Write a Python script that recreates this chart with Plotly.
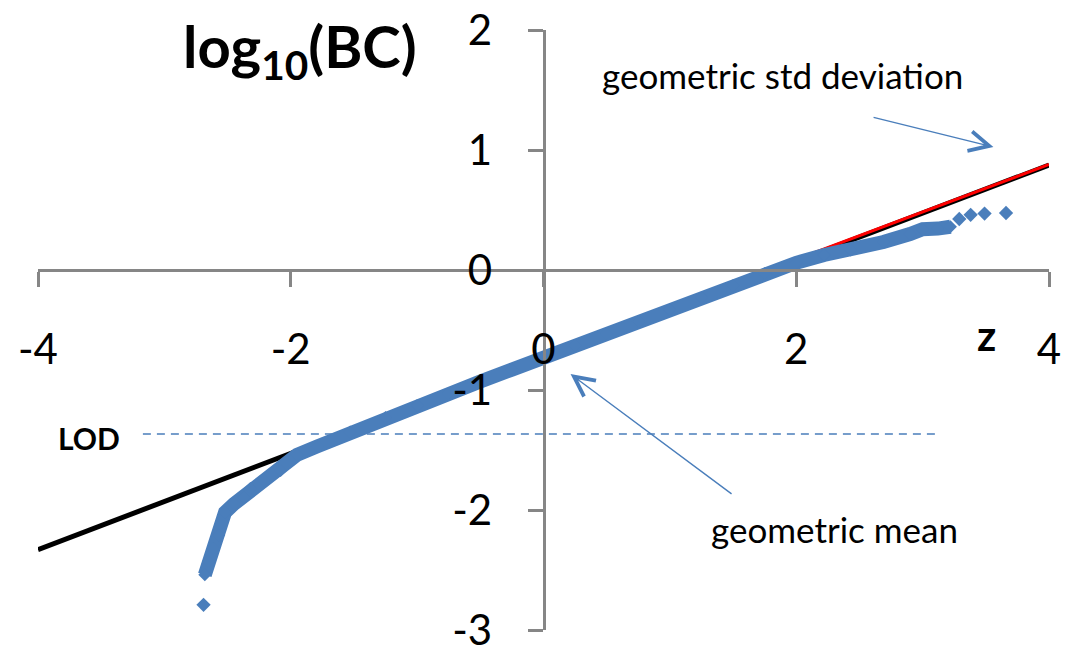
import plotly.graph_objects as go

# ranked data (z score vs log10 BC)
z_band = [-2.68, -2.65, -2.61, -2.57, -2.54, -2.52, -2.45, -2.37, -2.32, -2.21,
          -2.08, -1.95, -1.79, -1.63, -1.53, -1.25, -1.0, -0.75, -0.5, -0.25,
          0.0, 0.25, 0.5, 0.75, 1.0, 1.25, 1.5, 1.75, 2.0, 2.22,
          2.43, 2.69, 2.90, 3.0, 3.12, 3.22]
logbc_band = [-2.54, -2.43, -2.32, -2.21, -2.10, -2.02, -1.95, -1.89, -1.82, -1.75,
              -1.67, -1.54, -1.47, -1.40, -1.35, -1.23, -1.13, -1.03, -0.93, -0.83,
              -0.73, -0.63, -0.53, -0.43, -0.33, -0.23, -0.13, -0.03, 0.06, 0.125,
              0.167, 0.233, 0.30, 0.34, 0.345, 0.36]
z_out = [-2.69, 3.29, 3.38, 3.49, 3.66]
logbc_out = [-2.79, 0.425, 0.46, 0.47, 0.475]

# fitted lognormal line and its upper part
z_fit = [-4.0, 4.0]
logbc_fit = [-2.33, 0.875]
z_red = [1.0, 4.0]
logbc_red = [-0.308, 0.88]

# limit of detection
z_lod = [-3.17, 3.14]
logbc_lod = [-1.367, -1.367]

xticks = [-4, -2, 0, 2, 4]
xticktext = ['-4', '-2', '0', '2', '4']
yticks = [-3, -2, -1, 0, 1, 2]
yticktext = ['-3', '-2', '-1', '0', '1', '2']

blue = '#4A7EBB'
grey = '#868686'
font = 'Lato'

fig = go.Figure()
fig.add_trace(go.Scatter(x=z_fit, y=logbc_fit, mode='lines',
                         line=dict(color='black', width=5)))
fig.add_trace(go.Scatter(x=z_red, y=logbc_red, mode='lines',
                         line=dict(color='#FF0000', width=3)))
fig.add_trace(go.Scatter(x=z_lod, y=logbc_lod, mode='lines',
                         line=dict(color=blue, width=1.5, dash='8px,6px')))
fig.add_trace(go.Scatter(x=z_band, y=logbc_band, mode='lines+markers',
                         line=dict(color=blue, width=14),
                         marker=dict(symbol='diamond', size=10, color=blue)))
fig.add_trace(go.Scatter(x=z_out, y=logbc_out, mode='markers',
                         marker=dict(symbol='diamond', size=11, color=blue)))

# arrows
fig.add_annotation(x=3.56, y=1.025, ax=2.60, ay=1.275, axref='x', ayref='y',
                   text='', showarrow=True, arrowhead=5, arrowsize=2.8,
                   arrowwidth=1.4, arrowcolor=blue)
fig.add_annotation(x=0.214, y=-0.867, ax=1.50, ay=-1.875, axref='x', ayref='y',
                   text='', showarrow=True, arrowhead=5, arrowsize=2.8,
                   arrowwidth=1.4, arrowcolor=blue)

# text labels
fig.add_annotation(x=1.89, y=1.625, text='geometric std deviation', showarrow=False,
                   font=dict(family=font, size=35, color='black'))
fig.add_annotation(x=2.30, y=-2.158, text='geometric mean', showarrow=False,
                   font=dict(family=font, size=35, color='black'))
fig.add_annotation(x=-3.60, y=-1.40, text='<b>LOD</b>', showarrow=False,
                   font=dict(family=font, size=30, color='black'))
fig.add_annotation(x=3.505, y=-0.54, text='<b>z</b>', showarrow=False,
                   font=dict(family=font, size=42, color='black'))
fig.add_annotation(x=-1.93, y=1.83, text='<b>log<sub>10</sub>(BC)</b>', showarrow=False,
                   font=dict(family=font, size=58, color='black'))

# page body has an 8px margin, so the figure margins are trimmed by that
fig.update_layout(
    width=1072, height=645,
    margin=dict(l=30, r=31, t=22, b=23),
    paper_bgcolor='white', plot_bgcolor='white',
    showlegend=False,
    xaxis=dict(range=[-4, 4], anchor='free', position=0.6, automargin=False,
               showline=True, linecolor=grey, linewidth=3,
               ticks='outside', ticklen=15, tickwidth=3, tickcolor=grey,
               tickvals=xticks, ticktext=xticktext, ticklabeloverflow='allow',
               tickfont=dict(family=font, size=42, color='black'),
               ticklabelstandoff=27, showgrid=False, zeroline=False),
    yaxis=dict(range=[-3, 2], anchor='free', position=0.5, automargin=False,
               showline=True, linecolor=grey, linewidth=3,
               ticks='outside', ticklen=15, tickwidth=3, tickcolor=grey,
               tickvals=yticks, ticktext=yticktext, ticklabeloverflow='allow',
               tickfont=dict(family=font, size=42, color='black'),
               ticklabelstandoff=27, showgrid=False, zeroline=False),
)

fig.write_html("out.html")
